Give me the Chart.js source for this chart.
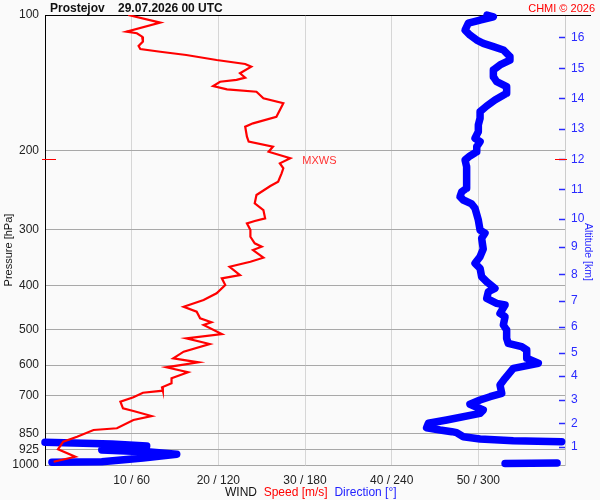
<!DOCTYPE html>
<html>
<head>
<meta charset="utf-8">
<title>Prostejov wind profile</title>
<script src="https://cdn.jsdelivr.net/npm/chart.js@4.4.1/dist/chart.umd.min.js"></script>
<style>
  html, body { margin: 0; padding: 0; background: #fafafa; }
  .wrap { position: relative; width: 600px; height: 500px; font-family: "Liberation Sans", Arial, sans-serif; }
  canvas { position: absolute; left: 0; top: 0; }
  .title { position: absolute; left: 50px; top: 1px; font-size: 12px; font-weight: bold; line-height: 14px; color: #111; white-space: pre; }
  .copy { position: absolute; right: 5px; top: 1px; font-size: 11px; line-height: 14px; color: #f00; }
  .note { position: absolute; left: 225px; top: 485px; font-size: 12px; line-height: 14px; white-space: pre; color: #111; }
  .red { color: #f00; }
  .blue { color: #22f; }
  .ytitle { position: absolute; font-size: 11px; line-height: 12px; white-space: nowrap; width: 100px; text-align: center; }
  .ytitle.left { left: -42px; top: 244px; transform: rotate(-90deg); color: #111; }
  .ytitle.right { left: 539px; top: 246px; transform: rotate(90deg); color: #2a2aff; font-size: 10.5px; }
</style>
</head>
<body>
<div class="wrap">
  <canvas id="wind" width="600" height="500"></canvas>
  <div class="title">Prostejov    29.07.2026 00 UTC</div>
  <div class="copy">CHMI © 2026</div>
  <div class="note">WIND  <span class="red">Speed [m/s]</span>  <span class="blue">Direction [°]</span></div>
  <div class="ytitle left">Pressure [hPa]</div>
  <div class="ytitle right">Altitude [km]</div>
</div>
<script>
// axes
const presTicks = [100, 200, 300, 400, 500, 600, 700, 850, 925, 1000];
const speedTicks = [10, 20, 30, 40, 50];
const dirTicks = [60, 120, 180, 240, 300];
const altKm = [16, 15, 14, 13, 12, 11, 10, 9, 8, 7, 6, 5, 4, 3, 2, 1];
const altPres = [112.1, 131.3, 153.1, 179.2, 209.3, 244.0, 284.1, 327.3, 377.0, 431.4,
  492.8, 562.9, 634.3, 717.1, 808.0, 910.8];

// wind speed profile (m/s)
const speedPres = [100, 104.0, 108.9, 109.8, 111.7, 114.6, 117.2, 119.0, 120.7, 122.7,
  125.9, 128.5, 130.3, 134.7, 137.8, 139.4, 140.7, 143.8, 146.3, 148.1,
  153.1, 157.1, 168.3, 174.1, 177.1, 186.4, 191.2, 196.2, 201.3, 208.2,
  213.6, 219.1, 224.8, 234.6, 239.9, 251.2, 262.1, 271.3, 283.1, 287.0,
  290.4, 300.5, 311.0, 321.7, 327.3, 332.9, 346.2, 353.4, 362.6, 378.3,
  384.8, 398.1, 415.4, 429.9, 444.9, 456.4, 472.1, 481.9, 488.6, 511.6,
  522.9, 538.4, 560.0, 579.3, 591.3, 606.6, 622.3, 641.7, 658.3, 671.9,
  683.8, 690.8, 707.3, 723.4, 748.2, 758.6, 778.3, 794.3, 828.7, 836.0,
  865.1, 887.6, 922.8, 958.5, 983.3];
const speedVal = [9.6, 13.3, 9.4, 10.6, 11.2, 11.3, 10.8, 11.0, 13.3, 16.3,
  19.8, 23.1, 23.8, 22.5, 23.1, 22.1, 20.2, 19.4, 21.0, 24.4,
  25.2, 27.5, 26.7, 24.0, 23.1, 23.3, 23.5, 26.3, 25.8, 28.3,
  27.1, 27.5, 27.3, 26.9, 26.0, 24.4, 24.2, 25.2, 25.4, 24.2,
  23.3, 23.7, 23.7, 24.2, 25.0, 24.0, 25.2, 23.7, 21.3, 22.5,
  20.4, 20.8, 19.8, 18.3, 16.0, 17.5, 17.9, 19.2, 18.3, 20.4,
  16.3, 19.0, 16.0, 14.8, 17.7, 14.0, 16.5, 14.6, 14.6, 13.5,
  13.6, 11.3, 10.2, 8.7, 9.0, 10.2, 12.3, 10.2, 8.3, 5.6,
  3.7, 2.1, 1.5, 3.5, 1.0];

// wind direction profile (deg), null = wrap through north
const dirPres = [100, 100.9, 102.6, 104.3, 108.0, 110.8, 113.7, 115.6, 117.6, 119.6,
  123.8, 125.9, 129.1, 132.5, 137.1, 140.7, 144.3, 149.3, 154.5, 159.3,
  164.0, 169.6, 175.5, 181.6, 187.9, 191.2, 196.2, 201.3, 205.7, 210.0,
  217.4, 232.6, 242.7, 247.0, 253.3, 257.7, 263.0, 268.9, 285.5, 300.5,
  305.5, 313.4, 331.1, 344.4, 356.3, 365.5, 381.6, 391.5, 405.0, 412.1,
  426.3, 437.3, 441.0, 460.2, 468.2, 488.6, 501.2, 522.9, 536.6, 545.9,
  555.2, 579.3, 594.3, 609.7, 641.7, 664.1, 692.9, 705.0, 717.1, 733.0,
  754.8, 767.6, 794.3, 807.8, 826.2, 836.0, 843.3, 847.6, 865.1, 875.5,
  883.1, 887.6, 889.0, 890.6, 898.3, 907.5, 926.3, 935.7, 946.7, 964.8,
  983.3, 986.3, 988.0, 990.0, 992.4];
const dirDeg = [306, 310.4, 301.2, 293.1, 290.8, 294.2, 298.9, 303.4, 310.4, 317.3,
  321.9, 321.9, 315.0, 310.4, 310.4, 312.7, 319.6, 319.6, 311.5, 305.8,
  301.2, 301.2, 300.0, 300.0, 297.7, 301.2, 298.9, 298.9, 294.2, 290.8,
  291.9, 291.9, 291.9, 288.5, 287.3, 289.6, 295.4, 297.7, 300.0, 301.2,
  304.6, 302.3, 303.4, 301.2, 297.7, 301.2, 302.3, 305.8, 311.5, 306.9,
  305.8, 312.7, 318.5, 315.0, 318.5, 317.3, 319.6, 319.6, 320.7, 330.0,
  333.5, 333.5, 341.5, 324.2, 318.5, 315.0, 316.2, 308.1, 301.2, 294.2,
  303.4, 301.2, 278.1, 265.4, 264.2, 273.5, 281.6, 285.0, 289.6, 301.2,
  324.2, 357.7, null, 0, 46.2, 70.4, 39.3, 72.7, 91.2, 67.8,
  39.3, 4.8, null, 354.5, 318.5];

// level of maximum wind
const maxWindPres = 209.3;
const maxWindSpeed = 28.3;

const fontFamily = '"Liberation Sans", Arial, sans-serif';
const red = '#ff0000';
const blue = '#0000ff';
const altColor = '#2a2aff';

const speedData = speedPres.map((p, i) => ({ x: speedVal[i], y: p }));
const dirData = dirPres.map((p, i) => ({ x: dirDeg[i], y: dirDeg[i] === null ? null : p }));

const decorations = {
  id: 'decorations',
  afterDatasetsDraw(chart) {
    const { ctx, chartArea, scales } = chart;
    ctx.save();

    // altitude ticks, drawn inside the plot edge
    ctx.strokeStyle = altColor;
    ctx.lineWidth = 1.5;
    scales.y2.ticks.forEach((t) => {
      const yy = Math.round(scales.y2.getPixelForValue(t.value)) + 0.5;
      ctx.beginPath();
      ctx.moveTo(chartArea.right - 6, yy);
      ctx.lineTo(chartArea.right, yy);
      ctx.stroke();
    });

    // top border runs on under the copyright
    ctx.strokeStyle = '#000';
    ctx.lineWidth = 1;
    ctx.beginPath();
    ctx.moveTo(chartArea.right, chartArea.top + 0.5);
    ctx.lineTo(chartArea.right + 26, chartArea.top + 0.5);
    ctx.stroke();

    // max wind marks
    const ym = Math.round(scales.y.getPixelForValue(maxWindPres)) + 0.5;
    ctx.strokeStyle = red;
    ctx.beginPath();
    ctx.moveTo(chartArea.left - 3, ym);
    ctx.lineTo(chartArea.left + 11, ym);
    ctx.moveTo(chartArea.right - 10, ym);
    ctx.lineTo(chartArea.right + 2, ym);
    ctx.stroke();

    ctx.fillStyle = '#f33';
    ctx.font = '11px ' + fontFamily;
    ctx.textBaseline = 'middle';
    ctx.fillText('MXWS', scales.x.getPixelForValue(maxWindSpeed) + 12, ym + 1);
    ctx.restore();
  }
};

function createChart() {
  const ctx = document.getElementById('wind');
  new Chart(ctx, {
    type: 'scatter',
    data: {
      datasets: [
        {
          label: 'Speed [m/s]',
          data: speedData,
          xAxisID: 'x',
          yAxisID: 'y',
          showLine: true,
          borderColor: red,
          borderWidth: 2.2,
          pointRadius: 0,
          tension: 0,
        },
        {
          label: 'Direction [°]',
          data: dirData,
          xAxisID: 'xd',
          yAxisID: 'y',
          showLine: true,
          spanGaps: false,
          borderColor: blue,
          borderWidth: 7.5,
          borderCapStyle: 'round',
          borderJoinStyle: 'round',
          pointRadius: 0,
          tension: 0,
          clip: 6,
        },
      ],
    },
    options: {
      responsive: false,
      animation: false,
      layout: { padding: 0 },
      plugins: {
        legend: { display: false },
        tooltip: { enabled: false },
      },
      scales: {
        x: {
          type: 'linear',
          position: 'bottom',
          min: 0,
          max: 60,
          afterBuildTicks: (scale) => { scale.ticks = speedTicks.map((v) => ({ value: v })); },
          afterFit: (scale) => { scale.height = 35; },
          ticks: {
            padding: 8,
            color: '#222',
            font: { family: fontFamily, size: 12 },
            callback: (v, i) => speedTicks[i] + ' / ' + dirTicks[i],
          },
          grid: { color: '#d6d6d6', drawTicks: false },
          border: { display: false },
        },
        xd: {
          type: 'linear',
          position: 'top',
          min: 0,
          max: 360,
          afterFit: (scale) => { scale.height = 15; },
          ticks: { display: false },
          grid: { display: false, drawTicks: false },
          border: { display: true, color: '#000', width: 1 },
        },
        y: {
          type: 'logarithmic',
          position: 'left',
          min: 100,
          max: 1000,
          reverse: true,
          afterBuildTicks: (scale) => { scale.ticks = presTicks.map((v) => ({ value: v })); },
          afterFit: (scale) => { scale.width = 45; },
          ticks: {
            autoSkip: false,
            padding: 6,
            color: '#222',
            font: { family: fontFamily, size: 12 },
            callback: (v) => String(v),
          },
          grid: { color: '#a8a8a8', drawTicks: false },
          border: { display: true, color: '#000', width: 1 },
        },
        y2: {
          type: 'logarithmic',
          position: 'right',
          min: 100,
          max: 1000,
          reverse: true,
          afterBuildTicks: (scale) => { scale.ticks = altPres.map((v) => ({ value: v })); },
          afterFit: (scale) => { scale.width = 35; },
          ticks: {
            autoSkip: false,
            padding: 6,
            color: altColor,
            font: { family: fontFamily, size: 12 },
            callback: (v, i) => String(altKm[i]),
          },
          grid: { drawOnChartArea: false, drawTicks: false },
          border: { display: true, color: '#cccccc', width: 1 },
        },
      },
    },
    plugins: [decorations],
  });
}

window.addEventListener('load', function () {
  createChart();
});
</script>
</body>
</html>
